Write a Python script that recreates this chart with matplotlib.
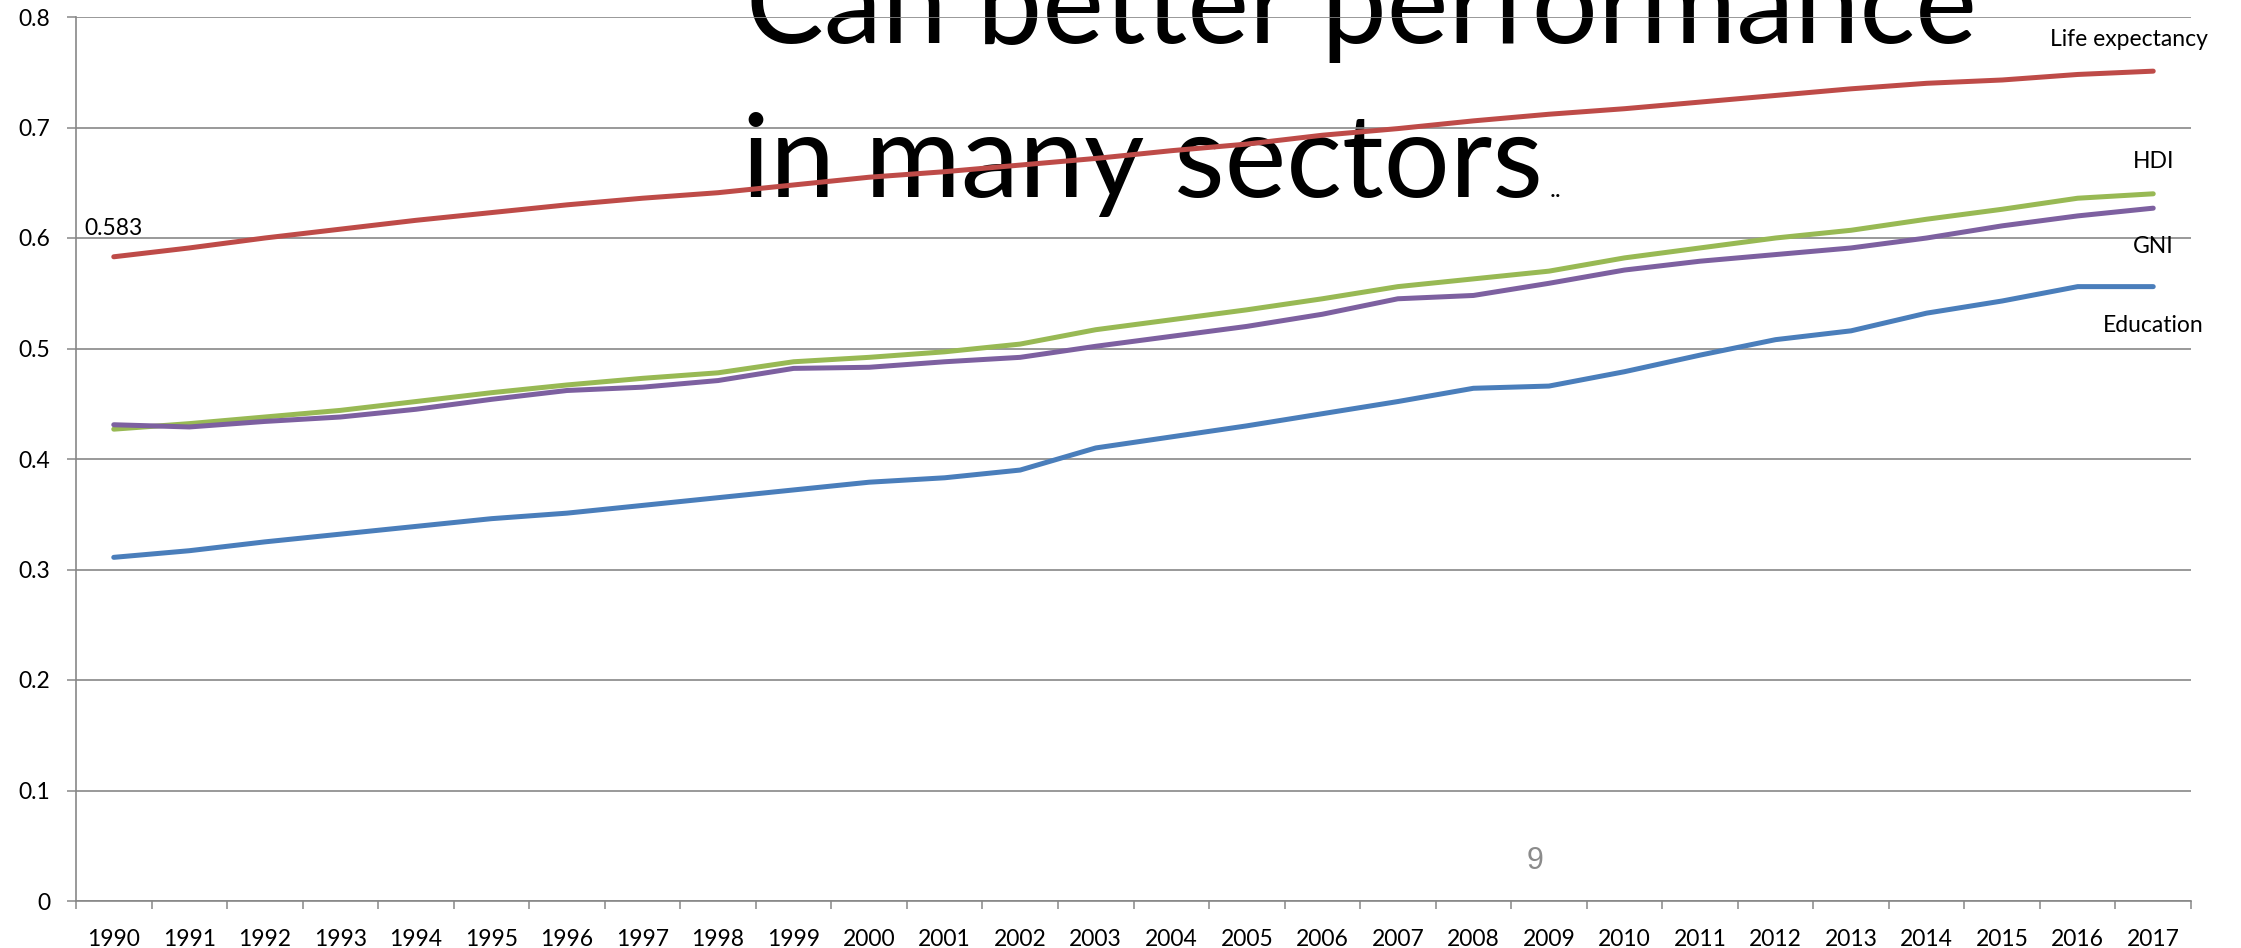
import matplotlib
matplotlib.use("Agg")
import matplotlib.pyplot as plt
from matplotlib.ticker import FixedLocator

years = [str(y) for y in range(1990, 2018)]
life_expectancy = [0.583, 0.591, 0.600, 0.608, 0.616, 0.623, 0.630, 0.636, 0.641, 0.648,
                   0.655, 0.660, 0.666, 0.672, 0.679, 0.685, 0.693, 0.699, 0.706, 0.712,
                   0.717, 0.723, 0.729, 0.735, 0.740, 0.743, 0.748, 0.751]
hdi = [0.427, 0.432, 0.438, 0.444, 0.452, 0.460, 0.467, 0.473, 0.478, 0.488,
       0.492, 0.497, 0.504, 0.517, 0.526, 0.535, 0.545, 0.556, 0.563, 0.570,
       0.582, 0.591, 0.600, 0.607, 0.617, 0.626, 0.636, 0.640]
gni = [0.431, 0.429, 0.434, 0.438, 0.445, 0.454, 0.462, 0.465, 0.471, 0.482,
       0.483, 0.488, 0.492, 0.502, 0.511, 0.520, 0.531, 0.545, 0.548, 0.559,
       0.571, 0.579, 0.585, 0.591, 0.600, 0.611, 0.620, 0.627]
education = [0.311, 0.317, 0.325, 0.332, 0.339, 0.346, 0.351, 0.358, 0.365, 0.372,
             0.379, 0.383, 0.390, 0.410, 0.420, 0.430, 0.441, 0.452, 0.464, 0.466,
             0.479, 0.494, 0.508, 0.516, 0.532, 0.543, 0.556, 0.556]
y_ticks = [0, 0.1, 0.2, 0.3, 0.4, 0.5, 0.6, 0.7, 0.8]
y_tick_labels = ["0", "0.1", "0.2", "0.3", "0.4", "0.5", "0.6", "0.7", "0.8"]

FONT = ["Lato", "DejaVu Sans"]
GRID = "#878787"

W, H = 2241, 948
fig = plt.figure(figsize=(W / 100, H / 100), dpi=100)
ax = fig.add_axes([76 / W, 47 / H, (2191 - 76) / W, (931 - 47) / H])

x = list(range(len(years)))
series = [
    (education, "#4A7EBB", "Education"),
    (life_expectancy, "#BE4B48", "Life expectancy"),
    (hdi, "#98B954", "HDI"),
    (gni, "#7D60A0", "GNI"),
]
for vals, col, name in series:
    ax.plot(x, vals, color=col, lw=3.6, solid_capstyle="round",
            solid_joinstyle="round", zorder=3)

ax.set_xlim(-0.5, len(years) - 0.5)
ax.set_ylim(0, 0.8)
ax.set_yticks(y_ticks)
ax.set_yticklabels(y_tick_labels, fontfamily=FONT, fontsize=16.5)
ax.set_xticks(x)
ax.set_xticklabels(years, fontfamily=FONT, fontsize=16.5)
ax.xaxis.set_minor_locator(FixedLocator([i - 0.5 for i in range(len(years) + 1)]))
ax.tick_params(axis="x", which="major", length=0, pad=20)
ax.tick_params(axis="x", which="minor", length=6, width=1.1, color=GRID)
ax.tick_params(axis="y", length=6.5, width=1.1, color=GRID, pad=12)

ax.set_axisbelow(True)
ax.grid(axis="y", color=GRID, lw=1.2)
for s in ["top", "right"]:
    ax.spines[s].set_visible(False)
for s in ["left", "bottom"]:
    ax.spines[s].set_color(GRID)
    ax.spines[s].set_linewidth(1.2)

# series labels
ax.annotate("Life expectancy", (x[-1], life_expectancy[-1]), xytext=(-24, 25),
            textcoords="offset pixels", ha="center", va="baseline",
            fontfamily=FONT, fontsize=16.5)
ax.annotate("HDI", (x[-1], hdi[-1]), xytext=(0, 26), textcoords="offset pixels",
            ha="center", va="baseline", fontfamily=FONT, fontsize=16.5)
ax.annotate("GNI", (x[-1], gni[-1]), xytext=(0, -45), textcoords="offset pixels",
            ha="center", va="baseline", fontfamily=FONT, fontsize=16.5)
ax.annotate("Education", (x[-1], education[-1]), xytext=(0, -45),
            textcoords="offset pixels", ha="center", va="baseline",
            fontfamily=FONT, fontsize=16.5)
ax.annotate(f"{life_expectancy[0]:.3f}", (x[0], life_expectancy[0]), xytext=(0, 22),
            textcoords="offset pixels", ha="center", va="baseline",
            fontfamily=FONT, fontsize=16.5)

# slide title (behind the lines)
ax.text(746 / W, 1 - 43 / H, "Can better performance", transform=fig.transFigure,
        ha="left", va="baseline", fontfamily=FONT, fontsize=84, clip_on=False,
        zorder=0.3)
ax.text(742 / W, 1 - 197 / H, "in many sectors", transform=fig.transFigure,
        ha="left", va="baseline", fontfamily=FONT, fontsize=84, clip_on=False,
        zorder=0.3)
ax.text(1550 / W, 1 - 197 / H, "..", transform=fig.transFigure,
        ha="left", va="baseline", fontfamily=FONT, fontsize=18, clip_on=False,
        zorder=0.3)

fig.text(1535 / W, 1 - 869 / H, "9", ha="center", va="baseline",
         fontfamily=["Liberation Sans", "DejaVu Sans"], fontsize=22, color="#8B8B8B")

fig.savefig("out.png", dpi=100)
